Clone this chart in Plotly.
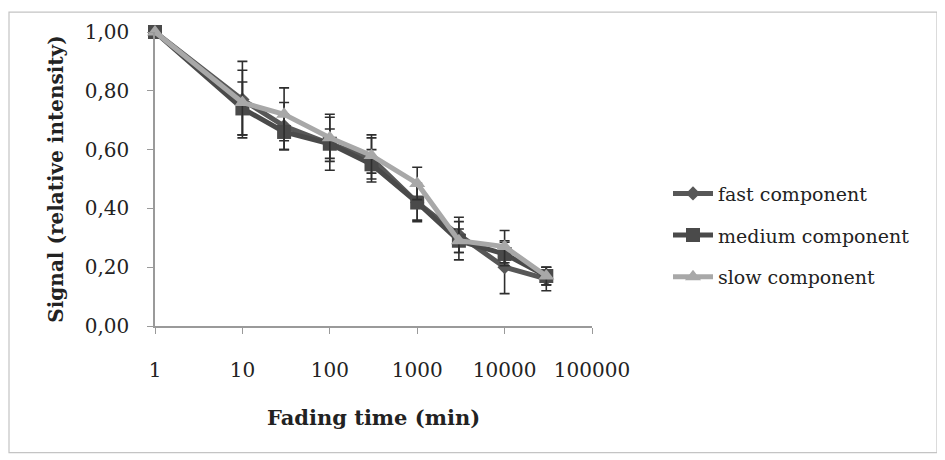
import plotly.graph_objects as go

fading_time = [1, 10, 30, 100, 300, 1000, 3000, 10000, 30000]

fast = [1.00, 0.77, 0.68, 0.62, 0.57, 0.42, 0.31, 0.20, 0.16]
fast_err = [0.0, 0.13, 0.08, 0.09, 0.08, 0.06, 0.06, 0.09, 0.04]

medium = [1.00, 0.74, 0.66, 0.62, 0.55, 0.42, 0.29, 0.245, 0.17]
medium_err = [0.0, 0.09, 0.06, 0.05, 0.05, 0.065, 0.065, 0.04, 0.03]

slow = [1.00, 0.76, 0.72, 0.64, 0.58, 0.485, 0.29, 0.27, 0.17]
slow_err = [0.0, 0.11, 0.09, 0.08, 0.06, 0.055, 0.04, 0.055, 0.03]

x_ticks = [1, 10, 100, 1000, 10000, 100000]
x_ticklabels = ["1", "10", "100", "1000", "10000", "100000"]
y_ticks = [0, 0.2, 0.4, 0.6, 0.8, 1.0]
y_ticklabels = ["0,00", "0,20", "0,40", "0,60", "0,80", "1,00"]

FONT = "DejaVu Serif"

series = [
    ("fast component", fast, fast_err, "#575757", "diamond", 11, "fast"),
    ("medium component", medium, medium_err, "#4a4a4a", "square", 14, "medium"),
    ("slow component", slow, slow_err, "#a8a8a8", "triangle-up", 14, "slow"),
]

fig = go.Figure()
for name, vals, err, col, sym, size, grp in series:
    fig.add_trace(go.Scatter(
        x=fading_time, y=vals, name=name, mode="lines+markers",
        legendgroup=grp,
        line=dict(color=col, width=5),
        marker=dict(symbol=sym, size=size, color=col, line=dict(width=0)),
        error_y=dict(type="data", array=err, visible=True,
                     color="#2e2e2e", thickness=1.6, width=5),
        cliponaxis=False,
    ))

# page body has an 8px margin; work in reference pixel coords minus 8
OFF = 8
W, H = 945 - OFF, 460 - OFF
L, R, T, B = 155 - OFF, 592 - OFF, 29 - OFF, 326 - OFF
pw, ph = R - L, B - T

# frame (in figure pixel coords)
fx0, fx1, fy0, fy1 = 1, 929, 1, 446

fig.update_layout(
    width=W, height=H,
    margin=dict(l=L, r=W - R, t=T, b=H - B),
    paper_bgcolor="white", plot_bgcolor="white",
    font=dict(family=FONT, color="#222222"),
    showlegend=True,
    legend=dict(
        x=(668 - OFF - L) / pw, y=(B - (173 - OFF)) / ph,
        xanchor="left", yanchor="top",
        font=dict(family=FONT, size=19, color="#222222"),
        tracegroupgap=14, itemwidth=40, bgcolor="rgba(0,0,0,0)",
    ),
    xaxis=dict(
        type="log", range=[0, 5],
        tickvals=x_ticks, ticktext=x_ticklabels,
        showgrid=False, zeroline=False,
        showline=True, linecolor="#9a9a9a", linewidth=1.5,
        ticks="outside", ticklen=6, tickcolor="#9a9a9a",
        tickfont=dict(family=FONT, size=20, color="#222222"),
        ticklabelstandoff=19,
        title=dict(text="<b>Fading time (min)</b>",
                   font=dict(family=FONT, size=21, color="#222222"),
                   standoff=30),
    ),
    yaxis=dict(
        range=[0, 1],
        tickvals=y_ticks, ticktext=y_ticklabels,
        showgrid=False, zeroline=False,
        showline=True, linecolor="#9a9a9a", linewidth=1.5,
        ticks="outside", ticklen=6, tickcolor="#9a9a9a",
        tickfont=dict(family=FONT, size=20, color="#222222"),
        ticklabelstandoff=14,
        title=dict(text="<b>Signal (relative intensity)</b>",
                   font=dict(family=FONT, size=20, color="#222222"),
                   standoff=16),
    ),
    shapes=[dict(
        type="rect", xref="paper", yref="paper",
        x0=(fx0 - L) / pw, x1=(fx1 - L) / pw,
        y0=(B - fy1) / ph, y1=(B - fy0) / ph,
        line=dict(color="#c4c4c4", width=1.2), fillcolor="rgba(0,0,0,0)",
        layer="below",
    )],
)

fig.write_html("out.html")
